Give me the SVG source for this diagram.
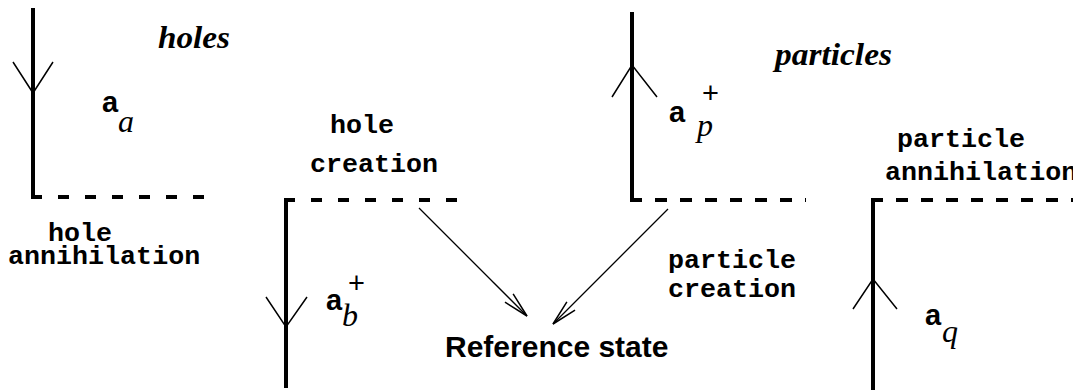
<svg xmlns="http://www.w3.org/2000/svg" width="1073" height="390" viewBox="0 0 1073 390">
<style>
.thick{stroke:#000;stroke-width:4;fill:none}
.dash{stroke:#000;stroke-width:4;fill:none;stroke-dasharray:11 16}
.head{stroke:#000;stroke-width:1.5;fill:none}
.thin{stroke:#000;stroke-width:1.3;fill:none}
.mono{font-family:"Liberation Mono","Courier New",monospace;font-weight:bold;font-size:26.7px;fill:#000}
.op{font-family:"Liberation Sans",Arial,sans-serif;font-weight:bold;font-size:29px;fill:#000}
.idx{font-family:"Liberation Serif","Times New Roman",serif;font-style:italic;font-size:32px;fill:#000}
.plus{font-family:"Liberation Sans",Arial,sans-serif;font-size:29px;fill:#000}
.title{font-family:"Liberation Serif","Times New Roman",serif;font-style:italic;font-weight:bold;font-size:31px;fill:#000}
.ref{font-family:"Liberation Sans",Arial,sans-serif;font-weight:bold;font-size:30px;fill:#000}
</style>
<defs>
<marker id="open" markerUnits="userSpaceOnUse" markerWidth="30" markerHeight="20" viewBox="-24 -8 26 16" refX="0" refY="0" orient="auto">
<path d="M-22,-5 L0,0 L-22,5" stroke="#000" stroke-width="1.3" fill="none"/>
</marker>
</defs>
<g id="hole-annihilation">
<line class="thick" x1="33" y1="8" x2="33" y2="199"/>
<line class="dash" x1="31" y1="197" x2="205" y2="197"/>
<path class="head" d="M13,62 L33,93 L53,62"/>
<text class="title" x="158" y="48" textLength="72" lengthAdjust="spacingAndGlyphs">holes</text>
<text class="op" x="102" y="112">a</text>
<text class="idx" x="118" y="132">a</text>
<text class="mono" x="48" y="241">hole</text>
<text class="mono" x="8" y="264">annihilation</text>
</g>
<g id="hole-creation">
<line class="thick" x1="286" y1="198" x2="286" y2="388"/>
<line class="dash" x1="284" y1="200" x2="462" y2="200"/>
<path class="head" d="M266,297 L286,327 L307,297"/>
<text class="op" x="326" y="310">a</text>
<text class="plus" x="348" y="293">+</text>
<text class="idx" x="342" y="326">b</text>
<text class="mono" x="330" y="133">hole</text>
<text class="mono" x="310" y="172">creation</text>
</g>
<g id="particle-creation">
<line class="thick" x1="632" y1="12" x2="632" y2="202"/>
<line class="dash" x1="630" y1="200" x2="806" y2="200" style="stroke-dasharray:12 13"/>
<path class="head" d="M612,97 L632,65 L657,97"/>
<text class="title" x="775" y="65" textLength="117" lengthAdjust="spacingAndGlyphs">particles</text>
<text class="op" x="669" y="122">a</text>
<text class="plus" x="702" y="103">+</text>
<text class="idx" x="697" y="136">p</text>
<text class="mono" x="668" y="268">particle</text>
<text class="mono" x="668" y="297">creation</text>
</g>
<g id="particle-annihilation">
<line class="thick" x1="873" y1="198" x2="873" y2="390"/>
<line class="dash" x1="871" y1="200" x2="1073" y2="200" style="stroke-dasharray:12 13"/>
<path class="head" d="M853,309 L873,279 L897,309"/>
<text class="op" x="925" y="325">a</text>
<text class="idx" x="942" y="342">q</text>
<text class="mono" x="897" y="147">particle</text>
<text class="mono" x="885" y="180">annihilation</text>
</g>
<g id="reference-state">
<text class="ref" x="445" y="357">Reference state</text>
</g>
<g id="connectors">
<line class="thin" x1="419" y1="208" x2="527" y2="316" marker-end="url(#open)"/>
<line class="thin" x1="668" y1="209" x2="553" y2="324" marker-end="url(#open)"/>
</g>
</svg>
